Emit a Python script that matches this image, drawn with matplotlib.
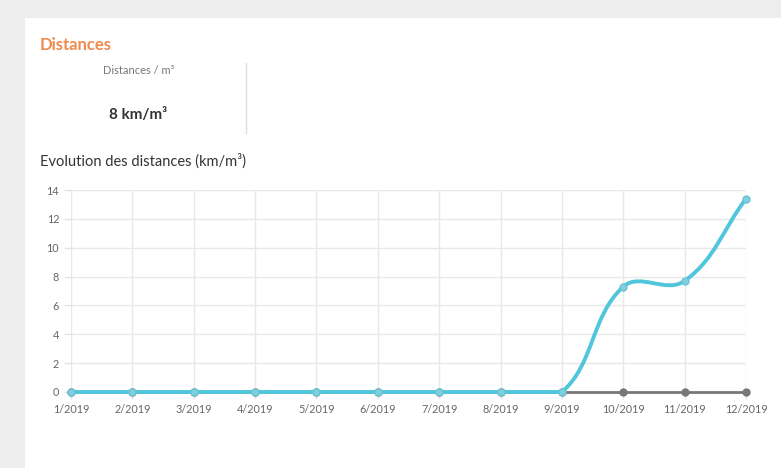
import matplotlib

matplotlib.use("Agg")
import matplotlib.pyplot as plt
import numpy as np
from matplotlib.patches import Rectangle, PathPatch
from matplotlib.path import Path

plt.rcParams["font.family"] = ["Lato", "DejaVu Sans"]

months = ["1/2019", "2/2019", "3/2019", "4/2019", "5/2019", "6/2019",
          "7/2019", "8/2019", "9/2019", "10/2019", "11/2019", "12/2019"]
distances = [0, 0, 0, 0, 0, 0, 0, 0, 0, 7.3, 7.7, 13.4]
reference = [0, 0, 0, 0, 0, 0, 0, 0, 0, 0, 0, 0]
y_ticks = [0, 2, 4, 6, 8, 10, 12, 14]
kpi_label = "Distances / m³"
kpi_value = "8 km/m³"

BLUE = "#4fc6db"
GREY = "#777777"


def spline_path(ax, xs, ys, tension=0.4):
    """Cardinal bezier through the points, control points capped to the plot box."""
    pts = ax.transData.transform(np.column_stack([xs, ys]))
    x0, y0, x1, y1 = ax.bbox.extents
    n = len(pts)
    verts = [pts[0]]
    codes = [Path.MOVETO]
    ctrl = []
    for i in range(n):
        prev = pts[max(i - 1, 0)]
        cur = pts[i]
        nxt = pts[min(i + 1, n - 1)]
        d01 = np.hypot(*(cur - prev))
        d12 = np.hypot(*(nxt - cur))
        tot = d01 + d12
        s01 = d01 / tot if tot else 0
        s12 = d12 / tot if tot else 0
        cp_prev = cur - tension * s01 * (nxt - prev)
        cp_next = cur + tension * s12 * (nxt - prev)
        cp_prev = np.clip(cp_prev, [x0, y0], [x1, y1])
        cp_next = np.clip(cp_next, [x0, y0], [x1, y1])
        ctrl.append((cp_prev, cp_next))
    for i in range(1, n):
        verts += [ctrl[i - 1][1], ctrl[i][0], pts[i]]
        codes += [Path.CURVE4] * 3
    inv = ax.transData.inverted()
    return Path(inv.transform(np.array(verts)), codes)


fig = plt.figure(figsize=(7.81, 4.68), dpi=100)
fig.patch.set_facecolor("#ededed")
fig.patches.append(Rectangle((25 / 781, 0), 1, 1 - 18 / 468, transform=fig.transFigure,
                             facecolor="white", edgecolor="none", zorder=-5))

fig.text(40 / 781, 1 - 45 / 468, "Distances", color="#ef8a4e", fontsize=12,
         fontweight="bold", va="center", ha="left")
fig.text(139 / 781, 1 - 71 / 468, kpi_label, color="#777777", fontsize=8,
         va="center", ha="center")
fig.text(138 / 781, 1 - 115 / 468, kpi_value, color="#333333", fontsize=11,
         fontweight="bold", va="center", ha="center")
fig.add_artist(plt.Line2D([246 / 781, 246 / 781], [1 - 63 / 468, 1 - 133 / 468],
                          transform=fig.transFigure, color="#dddddd", lw=1))
fig.text(40 / 781, 1 - 161 / 468, "Evolution des distances (km/m³)", color="#333333",
         fontsize=10.5, va="center", ha="left")

ax = fig.add_axes([71 / 781, 1 - 392 / 468, (746 - 71) / 781, (392 - 190) / 468])
ax.set_zorder(2)
ax.set_facecolor("white")
x = np.arange(len(months))
ax.set_xlim(0, len(months) - 1)
ax.set_ylim(0, 14)
ax.set_xticks(x)
ax.set_xticklabels(months)
ax.set_yticks(y_ticks)
ax.tick_params(colors="#e3e3e3", labelcolor="#666666", labelsize=7.8, length=5, width=1)
ax.grid(True, color="#e8e8e8", lw=1)
for side in ["top", "right", "left", "bottom"]:
    ax.spines[side].set_visible(False)
ax.set_axisbelow(True)

ax.plot(x, reference, color=GREY, lw=2, zorder=2, clip_on=False)
ax.plot(x, reference, "o", ms=5, color=GREY, mec=GREY, zorder=3, clip_on=False)

fig.canvas.draw()
ax.add_patch(PathPatch(spline_path(ax, x, distances), facecolor="none", edgecolor=BLUE,
                       lw=2.8, zorder=4, clip_on=False, capstyle="round"))
ax.plot(x, distances, "o", ms=5, mfc="#7fcfdf", mec="#6cc3d6", mew=1, zorder=5,
        clip_on=False)

fig.savefig("out.png", dpi=100, facecolor=fig.get_facecolor())
